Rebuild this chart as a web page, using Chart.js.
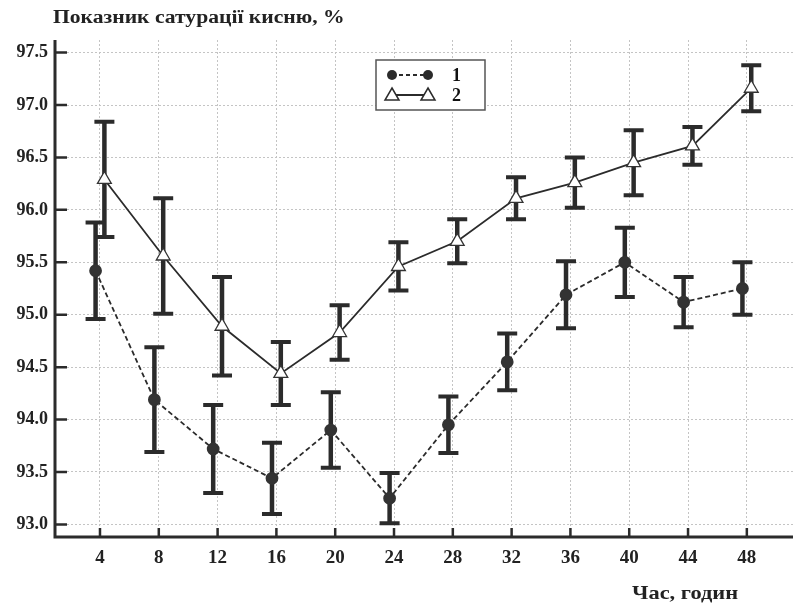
<!DOCTYPE html>
<html>
<head>
<meta charset="utf-8">
<script src="https://cdn.jsdelivr.net/npm/chart.js@4/dist/chart.umd.min.js"></script>
<style>
  body { margin: 0; background: #fff; }
  #wrap { position: relative; width: 793px; height: 606px; }
  .txt { position: absolute; font-family: "Liberation Serif", "DejaVu Serif", serif; font-weight: bold; color: #222; white-space: nowrap; transform-origin: left top; }
  #title { left: 53px; top: 7px; font-size: 18px; transform: scaleX(1.2); }
  #xtitle { left: 632px; top: 582px; font-size: 19px; transform: scaleX(1.18); }
</style>
</head>
<body>
<div id="wrap">
  <canvas id="myChart" width="793" height="606"></canvas>
  <div class="txt" id="title">Показник сатурації кисню, %</div>
  <div class="txt" id="xtitle">Час, годин</div>
</div>
<script>
// hours of observation
var hours = [4, 8, 12, 16, 20, 24, 28, 32, 36, 40, 44, 48];
// group 1 (circles, dashed)
var mean1 = [95.42, 94.19, 93.72, 93.44, 93.90, 93.25, 93.95, 94.55, 95.19, 95.50, 95.12, 95.25];
var err1  = [0.46, 0.50, 0.42, 0.34, 0.36, 0.24, 0.27, 0.27, 0.32, 0.33, 0.24, 0.25];
// group 2 (triangles, solid)
var mean2 = [96.29, 95.56, 94.89, 94.44, 94.83, 95.46, 95.70, 96.11, 96.26, 96.45, 96.61, 97.16];
var err2  = [0.55, 0.55, 0.47, 0.30, 0.26, 0.23, 0.21, 0.20, 0.24, 0.31, 0.18, 0.22];
var yTicks = [93.0, 93.5, 94.0, 94.5, 95.0, 95.5, 96.0, 96.5, 97.0, 97.5];
var seriesLabels = ['1', '2'];

var dark = '#2b2b2b';
var shift = 0.3; // small horizontal dodge between the two groups

function makePoints(means, errs, dx) {
  var pts = [];
  for (var i = 0; i < hours.length; i++) {
    pts.push({x: hours[i] + dx, y: means[i], err: errs[i]});
  }
  return pts;
}

var errorBars = {
  id: 'errorBars',
  beforeDatasetsDraw: function(chart) {
    var ctx = chart.ctx, xs = chart.scales.x, ys = chart.scales.y;
    ctx.save();
    ctx.strokeStyle = dark;
    chart.data.datasets.forEach(function(ds) {
      ds.data.forEach(function(p) {
        var x = xs.getPixelForValue(p.x);
        var top = ys.getPixelForValue(p.y + p.err);
        var bot = ys.getPixelForValue(p.y - p.err);
        ctx.lineWidth = 4.5;
        ctx.beginPath();
        ctx.moveTo(x, top); ctx.lineTo(x, bot);
        ctx.stroke();
        ctx.lineWidth = 4;
        ctx.beginPath();
        ctx.moveTo(x - 10, top); ctx.lineTo(x + 10, top);
        ctx.moveTo(x - 10, bot); ctx.lineTo(x + 10, bot);
        ctx.stroke();
      });
    });
    ctx.restore();
  },
  afterDraw: function(chart) {
    var ctx = chart.ctx, a = chart.chartArea, xs = chart.scales.x, ys = chart.scales.y;
    ctx.save();
    ctx.strokeStyle = dark;
    // axes
    ctx.lineWidth = 3;
    ctx.beginPath();
    ctx.moveTo(a.left, a.top); ctx.lineTo(a.left, a.bottom); ctx.lineTo(a.right, a.bottom);
    ctx.stroke();
    // inward tick marks
    ctx.lineWidth = 2.5;
    ctx.beginPath();
    yTicks.forEach(function(v) {
      var y = ys.getPixelForValue(v);
      ctx.moveTo(a.left, y); ctx.lineTo(a.left + 12, y);
    });
    hours.forEach(function(h) {
      var x = xs.getPixelForValue(h);
      ctx.moveTo(x, a.bottom); ctx.lineTo(x, a.bottom - 9);
    });
    ctx.stroke();

    // legend
    var lx = 376, ly = 60, lw = 109, lh = 50;
    ctx.fillStyle = '#fff';
    ctx.fillRect(lx, ly, lw, lh);
    ctx.strokeStyle = '#555';
    ctx.lineWidth = 1.5;
    ctx.strokeRect(lx, ly, lw, lh);
    var r1 = ly + 15, r2 = ly + 35;
    ctx.strokeStyle = dark;
    ctx.lineWidth = 2;
    ctx.setLineDash([4, 3]);
    ctx.beginPath(); ctx.moveTo(392, r1); ctx.lineTo(428, r1); ctx.stroke();
    ctx.setLineDash([]);
    ctx.beginPath(); ctx.moveTo(392, r2); ctx.lineTo(428, r2); ctx.stroke();
    ctx.fillStyle = dark;
    [392, 428].forEach(function(x) {
      ctx.beginPath(); ctx.arc(x, r1, 5, 0, Math.PI * 2); ctx.fill();
    });
    ctx.fillStyle = '#fff';
    ctx.lineWidth = 1.5;
    [392, 428].forEach(function(x) {
      ctx.beginPath();
      ctx.moveTo(x, r2 - 7); ctx.lineTo(x + 7, r2 + 5); ctx.lineTo(x - 7, r2 + 5); ctx.closePath();
      ctx.fill(); ctx.stroke();
    });
    ctx.fillStyle = '#111';
    ctx.font = 'bold 18px "Liberation Serif", serif';
    ctx.textBaseline = 'middle';
    ctx.fillText(seriesLabels[0], 452, r1 + 1);
    ctx.fillText(seriesLabels[1], 452, r2 + 1);
    ctx.restore();
  }
};

var ctx = document.getElementById('myChart').getContext('2d');
var myChart = new Chart(ctx, {
  type: 'line',
  data: {
    datasets: [{
      label: seriesLabels[0],
      data: makePoints(mean1, err1, -shift),
      borderColor: dark,
      borderWidth: 1.8,
      borderDash: [5, 3],
      pointStyle: 'circle',
      pointRadius: 5.5,
      pointBackgroundColor: '#333',
      pointBorderColor: '#333',
      tension: 0
    }, {
      label: seriesLabels[1],
      data: makePoints(mean2, err2, shift),
      borderColor: dark,
      borderWidth: 1.8,
      pointStyle: 'triangle',
      pointRadius: 8,
      pointBackgroundColor: '#fff',
      pointBorderColor: '#333',
      pointBorderWidth: 1.3,
      tension: 0
    }]
  },
  options: {
    responsive: false,
    animation: false,
    layout: { autoPadding: false, padding: { top: 40, right: 0, left: 0, bottom: 0 } },
    plugins: { legend: { display: false }, tooltip: { enabled: false } },
    scales: {
      x: {
        type: 'linear',
        min: 0.94, max: 51.14,
        afterBuildTicks: function(s) { s.ticks = hours.map(function(h) { return {value: h}; }); },
        afterFit: function(s) { s.height = 69; s.paddingLeft = 0; s.paddingRight = 0; },
        grid: { color: '#c4c4c4', lineWidth: 1, drawTicks: false },
        border: { display: false, dash: [2, 2] },
        ticks: {
          padding: 10,
          color: '#222',
          font: { family: '"Liberation Serif", serif', weight: 'bold', size: 19 },
          callback: function(v) { return v; }
        }
      },
      y: {
        min: 92.88, max: 97.62,
        afterBuildTicks: function(s) { s.ticks = yTicks.map(function(v) { return {value: v}; }); },
        afterFit: function(s) { s.width = 55; },
        grid: { color: '#c4c4c4', lineWidth: 1, drawTicks: false },
        border: { display: false, dash: [2, 2] },
        ticks: {
          padding: 7,
          color: '#222',
          font: { family: '"Liberation Serif", serif', weight: 'bold', size: 18 },
          callback: function(v) { return Number(v).toFixed(1); }
        }
      }
    }
  },
  plugins: [errorBars]
});
</script>
</body>
</html>
